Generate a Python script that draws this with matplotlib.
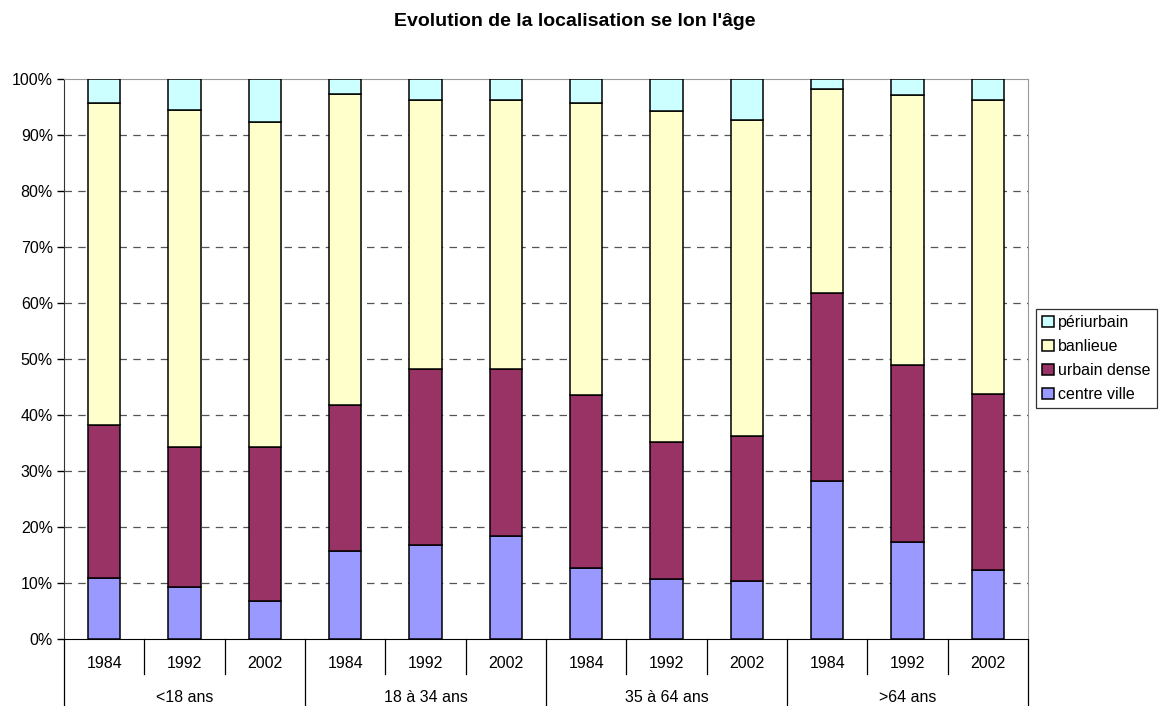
import matplotlib
matplotlib.use("Agg")
import matplotlib.pyplot as plt
import matplotlib.transforms as mtransforms
import numpy as np

plt.rcParams['font.family'] = ['Liberation Sans', 'DejaVu Sans']

groups = ['<18 ans', '18 à 34 ans', '35 à 64 ans', '>64 ans']
years = ['1984', '1992', '2002']

# cumulative tops (%)
centre_top = [10.9, 9.3, 6.7, 15.7, 16.7, 18.4, 12.7, 10.8, 10.4, 28.2, 17.4, 12.4]
urbain_top = [38.2, 34.2, 34.3, 41.8, 48.2, 48.3, 43.6, 35.2, 36.2, 61.7, 49.0, 43.7]
banlieue_top = [95.7, 94.5, 92.4, 97.4, 96.3, 96.2, 95.7, 94.2, 92.6, 98.2, 97.1, 96.2]

centre = np.array(centre_top)
urbain = np.array(urbain_top) - np.array(centre_top)
banlieue = np.array(banlieue_top) - np.array(urbain_top)
periurbain = 100 - np.array(banlieue_top)

series = [('centre ville', centre, '#9999FF'),
          ('urbain dense', urbain, '#993366'),
          ('banlieue', banlieue, '#FFFFCC'),
          ('périurbain', periurbain, '#CCFFFF')]

FS = 11.5

fig = plt.figure(figsize=(11.7, 7.06), dpi=100)
ax = fig.add_axes([64 / 1170, 1 - 639 / 706, (1028 - 64) / 1170, 560 / 706])

x = np.arange(len(centre))
bottom = np.zeros(len(x))
handles = []
for name, vals, col in series:
    b = ax.bar(x, vals, width=0.4, bottom=bottom, color=col, edgecolor='black',
               linewidth=1.1, label=name, zorder=3)
    handles.append(b)
    bottom = bottom + vals

ax.set_xlim(-0.5, len(x) - 0.5)
ax.set_ylim(0, 100)
ax.set_yticks(np.arange(0, 101, 10))
ax.set_yticklabels([f'{v}%' for v in range(0, 101, 10)], fontsize=FS)
ax.tick_params(axis='y', direction='out', length=5, width=1, pad=3)
ax.set_xticks([])

for v in range(10, 100, 10):
    ax.axhline(v, color='#555555', linestyle=(0, (6, 5)), linewidth=0.9, zorder=1)

for s in ['top', 'right']:
    ax.spines[s].set_color('#999999')
ax.spines['left'].set_color('#333333')
ax.spines['bottom'].set_color('black')

# category axis
trans = mtransforms.blended_transform_factory(ax.transData, ax.transAxes)
for i in range(len(x)):
    ax.text(i, -0.043, years[i % 3], transform=trans, ha='center', va='center', fontsize=FS)
for i in range(len(x) + 1):
    yb = -0.12 if i % 3 == 0 else -0.0625
    ax.plot([i - 0.5, i - 0.5], [0, yb], transform=trans, color='black',
            linewidth=0.9, clip_on=False)
for g, name in enumerate(groups):
    ax.text(g * 3 + 1, -0.105, name, transform=trans, ha='center', va='center', fontsize=FS)

fig.text(575 / 1170, 1 - 22 / 706, "Evolution de la localisation se lon l'âge", ha='center',
         va='center', fontsize=14, fontweight='bold')

leg = fig.legend(handles[::-1], [s[0] for s in series][::-1], loc='upper left',
                 bbox_to_anchor=(1036 / 1170, 1 - 309 / 706), fontsize=FS,
                 frameon=True, fancybox=False, edgecolor='black', handlelength=0.7,
                 handleheight=0.7, handletextpad=0.3, labelspacing=0.55, borderpad=0.4,
                 borderaxespad=0)
leg.get_frame().set_linewidth(0.9)

fig.savefig('out.png', dpi=100)
